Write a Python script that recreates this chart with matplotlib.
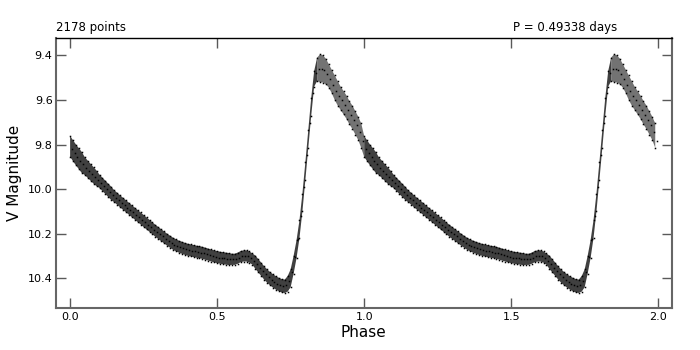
import numpy as np
import matplotlib
matplotlib.use("Agg")
import matplotlib.pyplot as plt

# Phase-folded V light curve (one cycle, drawn twice)
N_POINTS = 2178
PERIOD = 0.49338

phase = np.round(np.arange(0.0, 1.0, 0.01), 3)

# bright edge of the scatter band
mag_bright = [
    9.761, 9.781, 9.800, 9.817, 9.834, 9.857, 9.872, 9.887, 9.902, 9.917,
    9.935, 9.949, 9.962, 9.976, 9.989, 10.005, 10.016, 10.028, 10.039, 10.050,
    10.061, 10.072, 10.083, 10.094, 10.105, 10.116, 10.127, 10.138, 10.149, 10.160,
    10.170, 10.180, 10.190, 10.200, 10.209, 10.218, 10.225, 10.231, 10.236, 10.241,
    10.245, 10.248, 10.251, 10.254, 10.256, 10.259, 10.263, 10.267, 10.271, 10.275,
    10.278, 10.281, 10.283, 10.285, 10.287, 10.290, 10.290, 10.285, 10.278, 10.275,
    10.275, 10.280, 10.289, 10.298, 10.314, 10.330, 10.346, 10.360, 10.372, 10.382,
    10.391, 10.398, 10.404, 10.406, 10.390, 10.360, 10.300, 10.230, 10.140, 10.020,
    9.880, 9.735, 9.590, 9.470, 9.410, 9.395, 9.400, 9.415, 9.440, 9.465,
    9.490, 9.515, 9.540, 9.560, 9.580, 9.605, 9.625, 9.650, 9.675, 9.705,
]

# faint edge of the scatter band
mag_faint = [
    9.855, 9.875, 9.894, 9.911, 9.928, 9.937, 9.950, 9.963, 9.976, 9.987,
    9.995, 10.009, 10.022, 10.036, 10.049, 10.059, 10.070, 10.082, 10.093, 10.104,
    10.115, 10.126, 10.137, 10.148, 10.159, 10.170, 10.181, 10.192, 10.203, 10.214,
    10.224, 10.234, 10.244, 10.254, 10.263, 10.272, 10.279, 10.285, 10.290, 10.295,
    10.299, 10.302, 10.305, 10.308, 10.310, 10.313, 10.317, 10.321, 10.325, 10.329,
    10.332, 10.335, 10.337, 10.339, 10.341, 10.340, 10.340, 10.335, 10.328, 10.325,
    10.325, 10.330, 10.339, 10.358, 10.374, 10.390, 10.406, 10.420, 10.432, 10.442,
    10.451, 10.458, 10.464, 10.466, 10.460, 10.440, 10.380, 10.310, 10.220, 10.100,
    9.960, 9.815, 9.670, 9.540, 9.515, 9.520, 9.522, 9.530, 9.545, 9.570,
    9.600, 9.625, 9.645, 9.665, 9.685, 9.710, 9.730, 9.755, 9.780, 9.815,
]

# middle of the band, read at the half steps (phase + 0.005)
phase_mid = np.round(phase + 0.005, 3)
mag_mid = [
    9.818, 9.838, 9.856, 9.873, 9.889, 9.904, 9.918, 9.932, 9.946, 9.959,
    9.972, 9.986, 9.999, 10.013, 10.026, 10.038, 10.049, 10.061, 10.072, 10.083,
    10.094, 10.105, 10.116, 10.127, 10.138, 10.149, 10.160, 10.171, 10.182, 10.192,
    10.202, 10.212, 10.222, 10.232, 10.241, 10.249, 10.255, 10.261, 10.266, 10.270,
    10.274, 10.277, 10.280, 10.282, 10.285, 10.288, 10.292, 10.296, 10.300, 10.304,
    10.307, 10.309, 10.311, 10.313, 10.315, 10.315, 10.313, 10.307, 10.301, 10.300,
    10.302, 10.309, 10.321, 10.336, 10.352, 10.368, 10.383, 10.396, 10.407, 10.417,
    10.425, 10.431, 10.435, 10.432, 10.413, 10.372, 10.306, 10.226, 10.122, 9.990,
    9.848, 9.702, 9.568, 9.480, 9.460, 9.459, 9.466, 9.482, 9.504, 9.531,
    9.558, 9.581, 9.602, 9.622, 9.644, 9.667, 9.690, 9.714, 9.743, 9.784,
]

xticks = [0.0, 0.5, 1.0, 1.5, 2.0]
yticks = [9.4, 9.6, 9.8, 10.0, 10.2, 10.4]

# the same cycle is shown twice, phase 0-1 and 1-2
ph2 = np.concatenate([phase, phase + 1])
bright2 = np.array(mag_bright * 2)
faint2 = np.array(mag_faint * 2)
phm2 = np.concatenate([phase_mid, phase_mid + 1])
mid2 = np.array(mag_mid * 2)

# around maximum the two branches are more loosely filled than the rest
frac = np.round(ph2 % 1, 3)
dense_part = frac <= 0.84
loose_part = (frac >= 0.84) | (ph2 == 1.0)

fig = plt.figure(figsize=(7, 3.5), dpi=100)
ax = fig.add_axes([0.080, 0.121, 0.8796, 0.7704])

ax.fill_between(ph2, bright2, faint2, where=dense_part, color="0.25", lw=0)
ax.fill_between(ph2, bright2, faint2, where=loose_part, color="0.45", lw=0)
for ph, mag in ((ph2, bright2), (ph2, faint2), (phm2, mid2)):
    ax.plot(ph, mag, ls="none", marker="s", ms=1.1, mew=0, color="black")

ax.set_xlim(-0.048, 2.046)
ax.set_ylim(10.532, 9.322)
ax.set_xticks(xticks)
ax.set_yticks(yticks)
ax.set_xticklabels([f"{t:.1f}" for t in xticks])
ax.set_yticklabels([f"{t:.1f}" for t in yticks])

ax.tick_params(direction="in", length=7, width=1, top=True, right=True,
               labelsize=8, color="0.35")
ax.tick_params(axis="y", pad=2.5)
ax.tick_params(axis="x", pad=3)
for side in ("left", "bottom", "right"):
    ax.spines[side].set_color("0.4")
    ax.spines[side].set_linewidth(1.5)
ax.spines["top"].set_color("black")
ax.spines["top"].set_linewidth(1.0)

ax.set_xlabel("Phase", fontsize=11, labelpad=2)
ax.set_ylabel("V Magnitude", fontsize=11, labelpad=4)

ax.text(0.0, 1.015, f"{N_POINTS} points", transform=ax.transAxes,
        ha="left", va="bottom", fontsize=8.5)
ax.text(0.742, 1.015, f"P = {PERIOD:.5f} days", transform=ax.transAxes,
        ha="left", va="bottom", fontsize=8.5)

fig.savefig("out.png", dpi=100)
